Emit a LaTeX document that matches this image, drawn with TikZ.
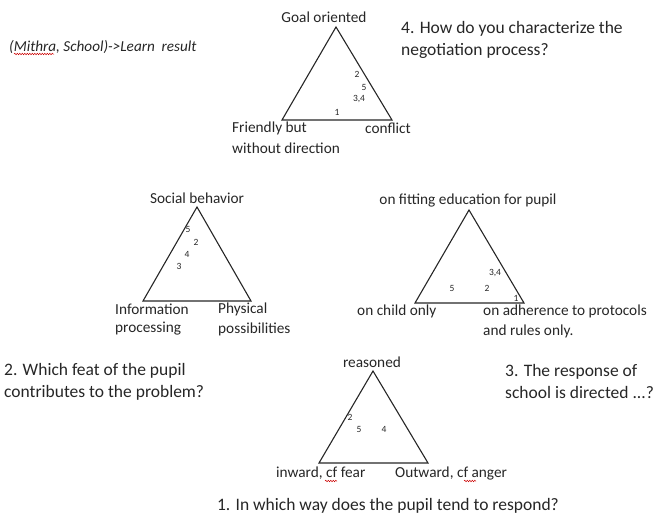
\documentclass[tikz,border=0pt]{standalone}
\usepackage{fontspec}
\setmainfont{Carlito}
\usetikzlibrary{decorations.pathmorphing}
\definecolor{ink}{HTML}{262626}
\tikzset{
  tri/.style={draw=ink, line width=1.1pt, line join=miter},
  lbl/.style={font=\fontsize{15.3}{20}\selectfont, text=ink, inner sep=0pt},
  qst/.style={font=\fontsize{17.5}{21.5}\selectfont, text=ink, inner sep=0pt, align=left},
  num/.style={font=\fontsize{9.5}{10}\selectfont, text=ink, inner sep=0pt},
  squig/.style={draw=red!80!black, line width=0.5pt, decorate, decoration={snake, amplitude=0.7pt, segment length=2.5pt}}
}
\begin{document}
\begin{tikzpicture}[x=1pt, y=-1pt]
\useasboundingbox (0,0) rectangle (662,514);
% Triangle (top)
\coordinate (a1) at (336,27); \coordinate (b1) at (282,120); \coordinate (c1) at (392,120);
\draw[tri] (a1) -- (b1) -- (c1) -- cycle;
\node[lbl] (goal) at (324,17) {Goal oriented};
\node[lbl, anchor=west] (friendly) at (232,128) {Friendly but};
\node[lbl, anchor=west] (without) at (232,148) {without direction};
\node[lbl, anchor=west] (conflict) at (365,128) {conflict};
\node[num] (t1n2) at (357,74) {2};
\node[num] (t1n5) at (364,87) {5};
\node[num] (t1n34) at (359,99) {3,4};
\node[num] (t1n1) at (337,112) {1};
% base anchor of a multi-line node = baseline of its last line
\node[qst, anchor=base west] (q4) at (401,55) {4. How do you characterize the\\negotiation process?};
\node[lbl, font=\fontsize{15.2}{20}\selectfont\itshape, anchor=west] (mithra) at (9,47) {(Mithra, School)->Learn\ \ result};
\draw[squig] (14,54) -- (54,54);
% Triangle (left)
\coordinate (a2) at (197,207); \coordinate (b2) at (143,301); \coordinate (c2) at (251,301);
\draw[tri] (a2) -- (b2) -- (c2) -- cycle;
\node[lbl] (social) at (197,198) {Social behavior};
\node[lbl, anchor=west] (info) at (115,309) {Information};
\node[lbl, anchor=west] (proc) at (115,329) {processing};
\node[lbl, anchor=west] (phys) at (218,309) {Physical};
\node[lbl, anchor=west] (poss) at (218,329) {possibilities};
\node[num] (t2n5) at (188,229) {5};
\node[num] (t2n2) at (196,242) {2};
\node[num] (t2n4) at (187,254) {4};
\node[num] (t2n3) at (179,266) {3};
\node[qst, anchor=base west] (q2) at (4,397) {2. Which feat of the pupil\\contributes to the problem?};
% Triangle (right)
\coordinate (a3) at (469,210); \coordinate (b3) at (415,303); \coordinate (c3) at (524,303);
\draw[tri] (a3) -- (b3) -- (c3) -- cycle;
\node[lbl] (fitting) at (468,201) {on fitting education for pupil};
\node[lbl, anchor=west] (child) at (357,311) {on child only};
\node[lbl, anchor=west] (adh) at (483,311) {on adherence to protocols};
\node[lbl, anchor=west] (rules) at (483,331) {and rules only.};
\node[num] (t3n34) at (495,273) {3,4};
\node[num] (t3n5) at (452,288) {5};
\node[num] (t3n2) at (487,288) {2};
\node[num] (t3n1) at (516,298) {1};
\node[qst, anchor=base west] (q3) at (505,398) {3. The response of\\school is directed ...?};
% Triangle (bottom)
\coordinate (a4) at (373,371); \coordinate (b4) at (319,463); \coordinate (c4) at (428,463);
\draw[tri] (a4) -- (b4) -- (c4) -- cycle;
\node[lbl] (reasoned) at (372,362) {reasoned};
\node[lbl, anchor=west] (inward) at (276,473) {inward, cf fear};
\node[lbl, anchor=west] (outward) at (395,473) {Outward, cf anger};
\draw[squig] (325,481) -- (337,481);
\draw[squig] (464,481) -- (476,481);
\node[num] (t4n2) at (350,417) {2};
\node[num] (t4n5) at (359,429) {5};
\node[num] (t4n4) at (384,429) {4};
\node[qst, anchor=base] (q1) at (388,510) {1. In which way does the pupil tend to respond?};
\end{tikzpicture}
\end{document}
